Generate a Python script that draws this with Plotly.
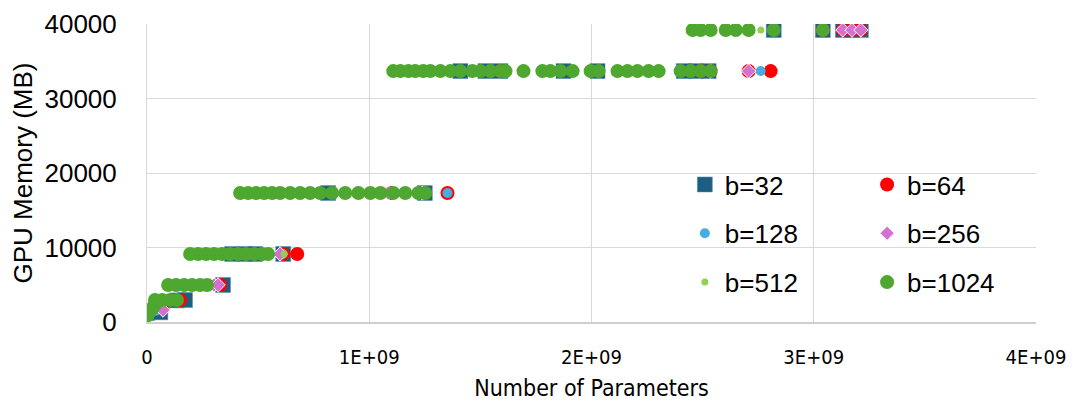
import plotly.graph_objects as go

# Number of parameters (millions) and GPU memory (MB) per batch size
b32_params = [0, 60, 135, 171, 342, 383, 441, 487, 613, 815, 1250, 1410, 1523, 1590, 1874, 2027,
              2415, 2469, 2527, 2820, 3041, 3131, 3172, 3212]
b32_mem = [1200, 1300, 2900, 2950, 4970, 9130, 9130, 9130, 9130, 17310, 17310, 33680, 33680, 33680,
           33680, 33680, 33680, 33680, 33680, 39190, 39190, 39190, 39190, 39190]

b64_params = [2, 70, 149, 329, 613, 676, 1095, 1239, 1352, 1590, 2491, 2536, 2707, 2806,
              3041, 3131, 3172, 3212]
b64_mem = [1100, 1800, 2950, 4970, 9130, 9130, 17310, 17310, 17310, 33680, 33680, 33680, 33680,
           33680, 39190, 39190, 39190, 39190]

b128_params = [40, 300, 610, 1352, 2761]
b128_mem = [1500, 4970, 9130, 17310, 33680]

b256_params = [72, 284, 302, 320, 599, 1086, 1239, 2536, 2707, 3131, 3172, 3212]
b256_mem = [1600, 4970, 4970, 4970, 9130, 17310, 17310, 33680, 33680, 39190, 39190, 39190]

b512_params = [30, 120, 250, 617, 1000, 2000, 2536, 2762]
b512_mem = [1400, 2950, 4970, 9130, 17310, 33680, 33680, 39190]

b1024_params = [3, 10, 20, 30, 40, 50,
                36, 68, 104, 135,
                95, 131, 167, 203, 239, 270,
                194, 230, 266, 302, 338, 374, 410, 446, 482, 518, 545,
                419, 455, 491, 527, 563, 599, 644, 689, 734, 779, 833, 892, 951, 1005, 1050,
                1108, 1162, 1221, 1252,
                1108, 1140, 1176, 1207, 1243, 1275, 1320, 1365, 1410, 1464, 1500, 1545, 1590,
                1613, 1694, 1779, 1815, 1861, 1915, 1996, 2032, 2117, 2162, 2207, 2257, 2302,
                2401, 2446, 2491, 2536,
                2455, 2491, 2536, 2604, 2649, 2707, 2820, 3041]
b1024_mem = [900, 1300, 1700, 2100, 2500, 2800,
             2950, 2950, 2950, 2950,
             4970, 4970, 4970, 4970, 4970, 4970,
             9130, 9130, 9130, 9130, 9130, 9130, 9130, 9130, 9130, 9130, 9130,
             17310, 17310, 17310, 17310, 17310, 17310, 17310, 17310, 17310, 17310, 17310,
             17310, 17310, 17310, 17310, 17310, 17310, 17310, 17310,
             33680, 33680, 33680, 33680, 33680, 33680, 33680, 33680, 33680, 33680, 33680,
             33680, 33680, 33680, 33680, 33680, 33680, 33680, 33680, 33680, 33680, 33680,
             33680, 33680, 33680, 33680, 33680, 33680, 33680, 33680,
             39190, 39190, 39190, 39190, 39190, 39190, 39190, 39190]

x_tick_vals = [0, 1e9, 2e9, 3e9, 4e9]
x_tick_text = ["0", "1E+09", "2E+09", "3E+09", "4E+09"]
y_tick_vals = [0, 10000, 20000, 30000, 40000]
y_tick_text = ["0", "10000", "20000", "30000", "40000"]

series = [
    ("b=32", b32_params, b32_mem, dict(symbol="square", size=15, color="#1D5F82",
                                       line=dict(color="#5C8FAD", width=0.5)), "legend", "g1"),
    ("b=64", b64_params, b64_mem, dict(symbol="circle", size=14, color="#FF0000",
                                       line=dict(width=0)), "legend2", "g2"),
    ("b=128", b128_params, b128_mem, dict(symbol="circle", size=10, color="#47ADE0",
                                          line=dict(width=0)), "legend", "g3"),
    ("b=256", b256_params, b256_mem, dict(symbol="diamond", size=11, color="#D66FD2",
                                          line=dict(color="white", width=1)), "legend2", "g4"),
    ("b=512", b512_params, b512_mem, dict(symbol="circle", size=7, color="#92D050",
                                          line=dict(width=0)), "legend", "g5"),
    ("b=1024", b1024_params, b1024_mem, dict(symbol="circle", size=14, color="#4EA72E",
                                             line=dict(width=0)), "legend2", "g6"),
]

fig = go.Figure()
for name, xs, ys, marker, leg, grp in series:
    fig.add_trace(go.Scatter(
        x=[v * 1e6 for v in xs], y=ys, mode="markers", name=name,
        marker=marker, legend=leg, legendgroup=grp,
    ))

tick_font = dict(family="Liberation Sans, Arial, sans-serif", size=26, color="#000000")
narrow_font = dict(family="Liberation Sans Narrow, DejaVu Sans Condensed, Arial Narrow, sans-serif",
                   size=20, color="#000000")
xtitle_font = dict(family="Liberation Sans Narrow, DejaVu Sans Condensed, Arial Narrow, sans-serif",
                   size=23, color="#000000")
legend_font = dict(family="Liberation Sans, Arial, sans-serif", size=26, color="#000000")

# page body adds an 8px offset, so the figure is 8px smaller than the window
fig.update_layout(
    width=1066, height=402,
    margin=dict(l=139, r=38, t=16, b=88),
    paper_bgcolor="white", plot_bgcolor="white",
    xaxis=dict(
        range=[0, 4e9], tickvals=x_tick_vals, ticktext=x_tick_text, automargin=False,
        showgrid=True, gridcolor="#D9D9D9", gridwidth=1.3,
        showline=True, linecolor="#D0D0D0", linewidth=2,
        zeroline=False, ticks="", tickfont=narrow_font, ticklabelstandoff=16,
        title=dict(text="Number of Parameters", font=xtitle_font, standoff=12),
    ),
    yaxis=dict(
        range=[0, 40000], tickvals=y_tick_vals, ticktext=y_tick_text, automargin=False,
        showgrid=True, gridcolor="#D9D9D9", gridwidth=1.3,
        showline=True, linecolor="#D9D9D9", linewidth=1,
        zeroline=False, ticks="", tickfont=tick_font, ticklabelstandoff=24,
        title=dict(text="GPU Memory (MB)", font=dict(family="Liberation Sans, Arial, sans-serif",
                                                      size=26, color="#000000"), standoff=6),
    ),
    legend=dict(x=0.605, y=0.54, xanchor="left", yanchor="top", bgcolor="rgba(0,0,0,0)",
                font=legend_font, tracegroupgap=12, itemsizing="trace"),
    legend2=dict(x=0.81, y=0.54, xanchor="left", yanchor="top", bgcolor="rgba(0,0,0,0)",
                 font=legend_font, tracegroupgap=12, itemsizing="trace"),
)

fig.write_html("out.html")
